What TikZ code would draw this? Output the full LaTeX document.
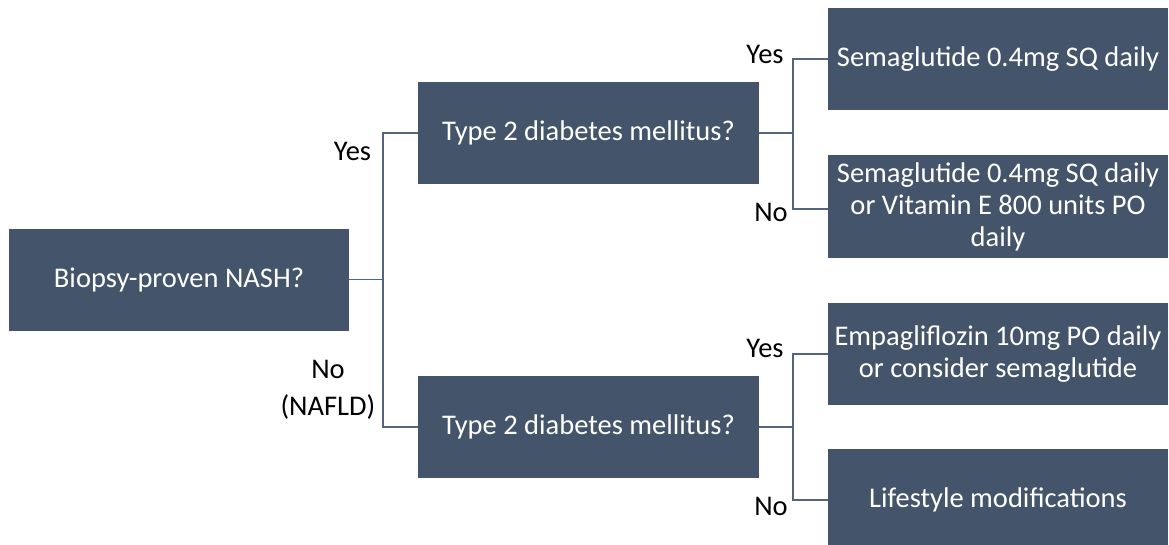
\documentclass[tikz,border=0pt]{standalone}
\usepackage{fontspec}
\setmainfont{Carlito}
\definecolor{boxc}{HTML}{44546A}
\definecolor{linec}{HTML}{55647A}
\tikzset{
  box/.style={fill=boxc, text=white, inner sep=0pt, minimum width=340, minimum height=102,
    align=center, font=\fontsize{28.5}{32}\selectfont},
  lbl/.style={text=black, inner sep=0pt, anchor=base, align=center, font=\fontsize{28.5}{37}\selectfont},
  conn/.style={draw=linec, line width=1.4pt}
}
\begin{document}
\begin{tikzpicture}[x=1pt,y=-1pt]
\clip (0,0) rectangle (1169,544);
\fill[white] (0,0) rectangle (1169,544);
\node[box] (b1) at (179,279.5) {Biopsy-proven NASH?};
\node[box, minimum width=341] (b2) at (588.5,133) {Type 2 diabetes mellitus?};
\node[box, minimum width=341] (b3) at (588.5,427) {Type 2 diabetes mellitus?};
\node[box] (b4) at (998,59) {Semaglutide 0.4mg SQ daily};
\node[box, minimum height=103] (b5) at (998,206.5) {Semaglutide 0.4mg SQ daily\\or Vitamin E 800 units PO\\daily};
\node[box] (b6) at (998,354) {Empagliflozin 10mg PO daily\\or consider semaglutide};
\node[box] (b7) at (998,500) {Lifestyle modifications};
% junctions
\coordinate (j1) at (383,279.5);
\coordinate (j2) at (793,133);
\coordinate (j3) at (793,427);
\draw[conn] (b1.east) -- (j1);
\draw[conn] (j1) |- (b2.west);
\draw[conn] (j1) |- (b3.west);
\draw[conn] (b2.east) -- (j2);
\draw[conn] (j2) |- (b4.west);
\draw[conn] (j2) |- ([yshift=-2.5]b5.west);
\draw[conn] (b3.east) -- (j3);
\draw[conn] (j3) |- (b6.west);
\draw[conn] (j3) |- (b7.west);
% labels
\node[lbl] (l1) at (352.5,160) {Yes};
\node[lbl] (l2) at (328,415) {No\\(NAFLD)};
\node[lbl] (l3) at (765,63) {Yes};
\node[lbl] (l4) at (771,221) {No};
\node[lbl] (l5) at (765,357) {Yes};
\node[lbl] (l6) at (771,515) {No};
\end{tikzpicture}
\end{document}
